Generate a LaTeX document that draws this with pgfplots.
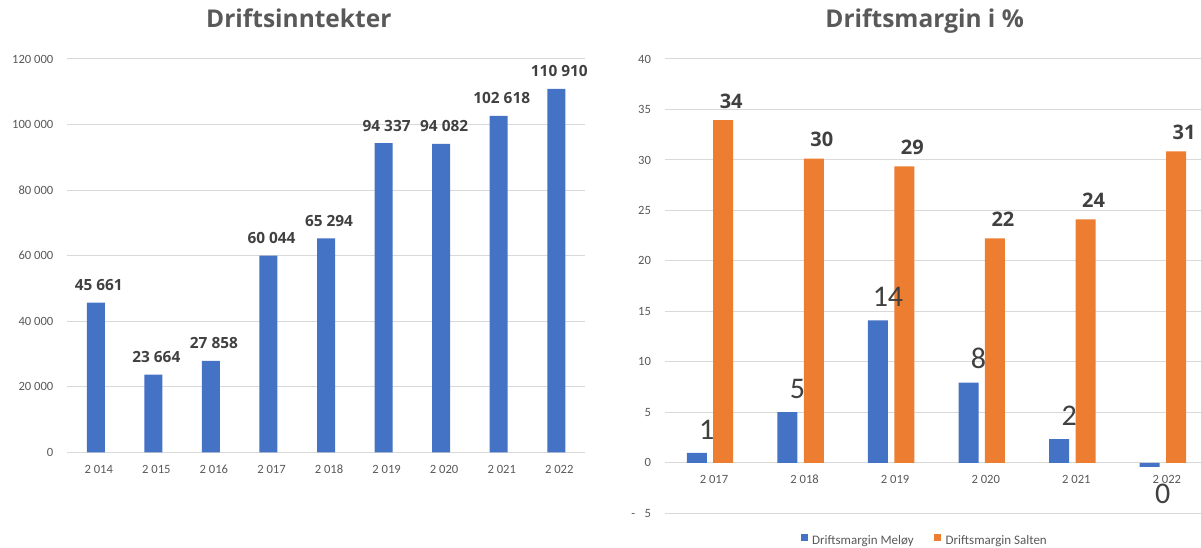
\documentclass[border=0pt]{standalone}
\usepackage{fontspec}
\setmainfont{Carlito}
\newfontfamily\osans{Open Sans}
\usepackage{pgfplots}
\pgfplotsset{compat=1.18}
\definecolor{meloy}{HTML}{4472C4}
\definecolor{salten}{HTML}{ED7D31}
\definecolor{tickgray}{HTML}{595959}
\definecolor{lblgray}{HTML}{404040}
\definecolor{gridgray}{HTML}{D9D9D9}
\pgfplotsset{
  common/.style={
    anchor=south west, scale only axis,
    axis lines=left, axis line style={draw=none},
    major tick length=0pt,
    scaled y ticks=false, scaled x ticks=false,
    ymajorgrids, grid style={gridgray, line width=1pt},
    ticklabel style={font=\fontsize{12.6}{14}\selectfont, text=tickgray, inner sep=0pt},
    yticklabel style={anchor=east, xshift=-13.5pt},
    enlarge x limits=false, enlarge y limits=false,
    clip=false,
    ybar,
  }
}
\begin{document}
\begin{tikzpicture}
\useasboundingbox (0pt,0pt) rectangle (1201pt,547pt);
\begin{axis}[common,
  at={(67pt,94.7pt)}, width=518.1pt, height=393.3pt,
  xmin=-0.5, xmax=8.5, ymin=0, ymax=120000,
  xtick={0,1,2,3,4,5,6,7,8},
  xticklabels={2 014,2 015,2 016,2 017,2 018,2 019,2 020,2 021,2 022},
  ytick={0,20000,40000,60000,80000,100000,120000},
  yticklabels={0,20 000,40 000,60 000,80 000,100 000,120 000},
  xticklabel style={anchor=base, yshift=-21pt, xshift=3pt},
  bar width=18pt,
  title={Driftsinntekter},
  title style={at={(axis description cs:0.4474,1.0654)}, anchor=base, inner sep=0pt,
    font=\osans\bfseries\fontsize{24.5}{28}\selectfont, text=tickgray},
]
\addplot[fill=meloy, draw=none, bar shift=0pt, point meta=explicit symbolic, nodes near coords,
  every node near coord/.append style={font=\osans\bfseries\fontsize{15.4}{18}\selectfont,
    text=lblgray, inner xsep=0pt, inner ysep=11.7pt, xshift=3pt}]
coordinates {
 (0,45661) [45 661]
 (1,23664) [23 664]
 (2,27858) [27 858]
 (3,60044) [60 044]
 (4,65294) [65 294]
 (5,94337) [94 337]
 (6,94082) [94 082]
 (7,102618) [102 618]
 (8,110910) [110 910]
};
\end{axis}
\begin{axis}[common,
  at={(664.7pt,33.7pt)}, width=543.5pt, height=454.3pt,
  xmin=-0.5, xmax=5.5, ymin=-5, ymax=40,
  xtick={0,1,2,3,4,5},
  xticklabels={2 017,2 018,2 019,2 020,2 021,2 022},
  ytick={-5,0,5,10,15,20,25,30,35,40},
  yticklabels={-\hspace{9.5pt}5,0,5,10,15,20,25,30,35,40},
  xticklabel style={anchor=base, yshift=29.45pt, xshift=4pt},
  bar width=20pt,
  title={Driftsmargin i \%},
  title style={at={(axis description cs:0.4784,1.0566)}, anchor=base, inner sep=0pt,
    font=\osans\bfseries\fontsize{24.5}{28}\selectfont, text=tickgray},
  legend columns=2,
  legend cell align=left,
  legend style={at={(axis description cs:0.2502,-0.0585)}, anchor=west, draw=none, fill=none,
    inner sep=0pt, font=\fontsize{13}{15}\selectfont, text=tickgray,
    nodes={inner sep=0pt},
    /tikz/every odd column/.style={column sep=4.5pt},
    /tikz/every even column/.style={column sep=20.7pt}},
]
\addplot[fill=meloy, draw=none, bar shift=-13.2pt, point meta=explicit symbolic, nodes near coords,
  every node near coord/.append style={font=\fontsize{30}{34}\selectfont,
    text=lblgray, inner xsep=0pt, inner ysep=13.4pt, xshift=10pt},
  legend image code/.code={\fill[meloy] (0pt,0pt) rectangle (6.7pt,6.7pt);}]
coordinates {
 (0,0.99) [1]
 (1,5.03) [5]
 (2,14.1) [14]
 (3,7.95) [8]
 (4,2.35) [2]
 (5,-0.40) [{}]
};
\addlegendentry{Driftsmargin Meløy}
\addplot[fill=salten, draw=none, bar shift=13.2pt, point meta=explicit symbolic, nodes near coords,
  every node near coord/.append style={font=\osans\bfseries\fontsize{20}{24}\selectfont,
    text=lblgray, inner xsep=0pt, inner ysep=11.7pt, xshift=8pt},
  legend image code/.code={\fill[salten] (0pt,0pt) rectangle (6.7pt,6.7pt);}]
coordinates {
 (0,33.94) [34]
 (1,30.14) [30]
 (2,29.37) [29]
 (3,22.23) [22]
 (4,24.11) [24]
 (5,30.85) [31]
};
\addlegendentry{Driftsmargin Salten}
% label of the negative Meløy value, set below the bar end
\addplot[forget plot, draw=none, fill=none, bar shift=-13.2pt, point meta=explicit symbolic,
  nodes near coords,
  every node near coord/.append style={font=\fontsize{30}{34}\selectfont,
    text=lblgray, inner xsep=0pt, inner ysep=16.7pt, xshift=13pt, anchor=north}]
coordinates {
 (5,-0.40) [0]
};
\end{axis}
\end{tikzpicture}
\end{document}
